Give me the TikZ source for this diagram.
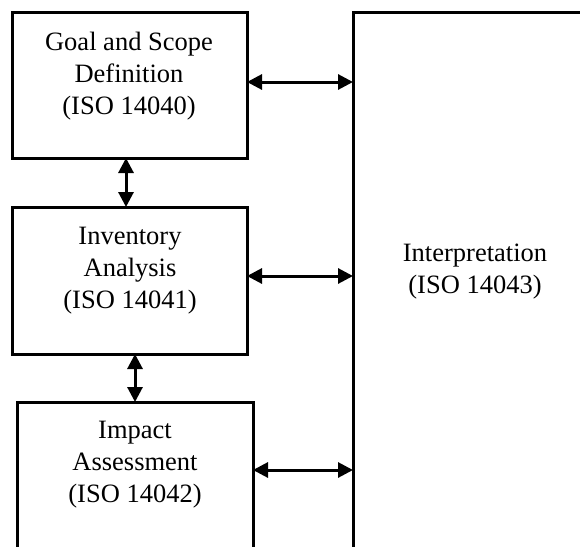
\documentclass[tikz,border=0pt]{standalone}
\usepackage{fontspec}
\setmainfont{Liberation Serif}
\usetikzlibrary{arrows.meta}
\begin{document}
\begin{tikzpicture}[x=1pt,y=-1pt,
  boxst/.style={draw, line width=3pt, rectangle, inner sep=0pt, outer sep=0pt, anchor=north west},
  txt/.style={align=center, font=\fontsize{26.5}{32}\selectfont, inner sep=0pt},
  link/.style={{Triangle[length=15pt,width=15pt]}-{Triangle[length=15pt,width=15pt]}, line width=3pt}]
\useasboundingbox (0,0) rectangle (580,546);
\clip (0,0) rectangle (580,546);
\node[boxst, minimum width=235pt, minimum height=146pt] (b1) at (12,12) {};
\node[boxst, minimum width=235pt, minimum height=147pt] (b2) at (12,207) {};
\node[boxst, minimum width=236pt, minimum height=250pt] (b3) at (17,402) {};
\node[boxst, minimum width=300pt, minimum height=650pt] (interp) at (353,12) {};
\node[txt] (t1) at (129,76) {Goal and Scope\\Definition\\(ISO 14040)};
\node[txt] (t2) at (130,271) {Inventory\\Analysis\\(ISO 14041)};
\node[txt] (t3) at (135,465) {Impact\\Assessment\\(ISO 14042)};
\node[txt] (t4) at (475,272) {Interpretation\\(ISO 14043)};
\draw[link] (b1.east |- 0,82) -- (interp.west |- 0,82);
\draw[link] (b2.east |- 0,276) -- (interp.west |- 0,276);
\draw[link] (b3.east |- 0,470) -- (interp.west |- 0,470);
\draw[link] (b1.south -| 126,0) -- (b2.north -| 126,0);
\draw[link] (b2.south -| 135,0) -- (b3.north -| 135,0);
\end{tikzpicture}
\end{document}
